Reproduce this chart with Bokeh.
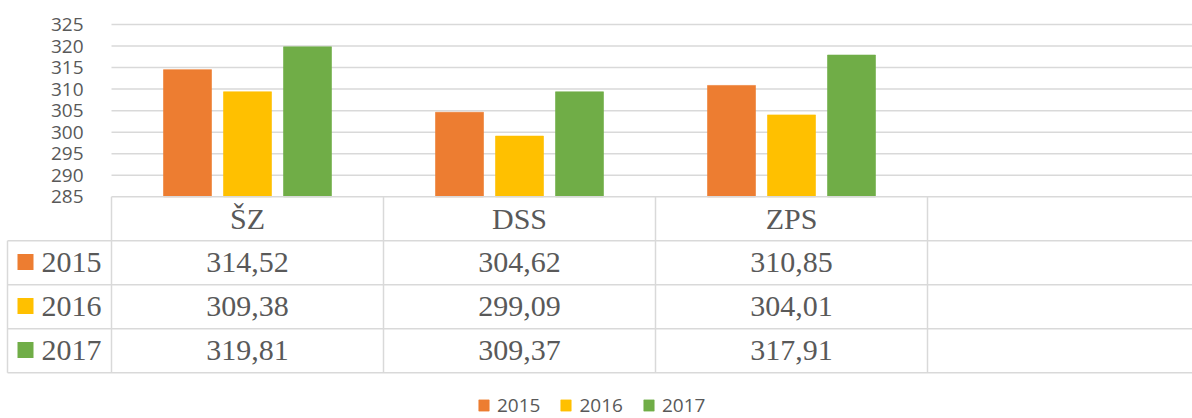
from bokeh.plotting import figure
from bokeh.models import Range1d, FixedTicker, Legend, LegendItem, ColumnDataSource
from bokeh.core.properties import value
from bokeh.embed import file_html
from bokeh.resources import INLINE

categories = ["ŠZ", "DSS", "ZPS"]
years = ["2015", "2016", "2017"]
v2015 = [314.52, 304.62, 310.85]
v2016 = [309.38, 299.09, 304.01]
v2017 = [319.81, 309.37, 317.91]
colors = ["#ED7D31", "#FFC000", "#70AD47"]
y_ticks = [285, 290, 295, 300, 305, 310, 315, 320, 325]

series = [v2015, v2016, v2017]
n_slots = 4  # three categories + one empty column

W, H = 1192, 418
axis_px = 111          # screen x of the first category column
y325_px = 24           # screen y of the 325 gridline
y285_px = 196.3        # screen y of the 285 baseline
px_per_unit = (y285_px - y325_px) / 40
y_top = 325 + y325_px / px_per_unit
y_bottom = 285 - (H - y285_px) / px_per_unit

slot_px = 272.0
x_start = -axis_px / slot_px
x_end = (W - axis_px) / slot_px

p = figure(width=W, height=H, output_backend="svg", toolbar_location=None,
           x_range=Range1d(x_start, x_end), y_range=Range1d(y_bottom, y_top),
           min_border_left=0, min_border_right=0,
           min_border_top=0, min_border_bottom=0,
           x_axis_location=None)
p.outline_line_color = None
p.background_fill_color = "white"
p.border_fill_color = "white"

# table row range: header row 0..1, data rows 1..4 ; 44 px per row
row_px = 44.0
tbl_top = -y285_px / row_px
tbl_bottom = (H - y285_px) / row_px
p.extra_y_ranges = {"tbl": Range1d(start=tbl_bottom, end=tbl_top)}

# y axis, placed at the start of the first category column
p.yaxis.fixed_location = 0
p.yaxis.ticker = FixedTicker(ticks=y_ticks)
p.yaxis.axis_line_color = None
p.yaxis.major_tick_line_color = None
p.yaxis.minor_tick_line_color = None
p.yaxis.major_label_standoff = 22
p.yaxis.major_label_text_font = "Open Sans"
p.yaxis.major_label_text_font_size = "19px"
p.yaxis.major_label_text_color = "#595959"
p.xgrid.grid_line_color = None
p.ygrid.grid_line_color = None

# horizontal gridlines across the category columns only
grid_vals = y_ticks[1:]
p.segment(x0=[0] * len(grid_vals), x1=[n_slots] * len(grid_vals),
          y0=grid_vals, y1=grid_vals, line_color="#d9d9d9", line_width=1.5)

# bars
bar_w = 48 / slot_px
offsets = [-60 / slot_px, 0, 60 / slot_px]
legend_items = []
for yr, vals, col, off in zip(years, series, colors, offsets):
    xs = [i + 0.5 + off for i in range(len(categories))]
    src = ColumnDataSource(dict(x=xs, top=vals))
    r = p.vbar(x="x", top="top", bottom=285, width=bar_w, source=src,
               fill_color=col, line_color=col, line_alpha=0.6)
    legend_items.append(LegendItem(label=yr, renderers=[r]))

# table lines
tbl_left = -104 / slot_px
line_col = "#d9d9d9"
hx0, hy, hx1 = [0], [0], [n_slots]
for row in range(1, 5):
    hx0.append(tbl_left); hy.append(row); hx1.append(n_slots)
p.segment(x0=hx0, y0=hy, x1=hx1, y1=hy, line_color=line_col, line_width=1.5,
          y_range_name="tbl")
vx = [tbl_left] + list(range(n_slots))
vy0 = [1] + [0] * n_slots
vy1 = [4] * (n_slots + 1)
p.segment(x0=vx, y0=vy0, x1=vx, y1=vy1, line_color=line_col, line_width=1.5,
          y_range_name="tbl")

# header
p.text(x=[i + 0.5 for i in range(len(categories))], y=[0.5] * len(categories),
       text=categories, y_range_name="tbl", text_font=value("Liberation Serif"),
       text_font_size="30px", text_color="#595959", text_align="center",
       text_baseline="middle")

# rows
for ri, (yr, vals, col) in enumerate(zip(years, series, colors)):
    yrow = ri + 1.5
    p.text(x=[i + 0.5 for i in range(len(vals))], y=[yrow] * len(vals),
           text=[f"{v:.2f}".replace(".", ",") for v in vals], y_range_name="tbl",
           text_font=value("Liberation Serif"), text_font_size="30px",
           text_color="#595959", text_align="center", text_baseline="middle")
    p.scatter(x=[tbl_left + 18 / slot_px], y=[yrow - 0.02], marker="square", size=16,
              fill_color=col, line_color=None, y_range_name="tbl")
    p.text(x=[tbl_left + 34 / slot_px], y=[yrow], text=[yr], y_range_name="tbl",
           text_font=value("Liberation Serif"), text_font_size="30px",
           text_color="#595959", text_align="left", text_baseline="middle")

legend = Legend(items=legend_items, orientation="horizontal", location=(477, 0),
                border_line_color=None, background_fill_alpha=0,
                label_text_font="Open Sans", label_text_font_size="19px",
                label_text_color="#595959", glyph_width=13, glyph_height=14,
                label_standoff=7, spacing=19, padding=0, margin=0)
p.add_layout(legend)

open("out.html", "w").write(file_html(p, INLINE))
